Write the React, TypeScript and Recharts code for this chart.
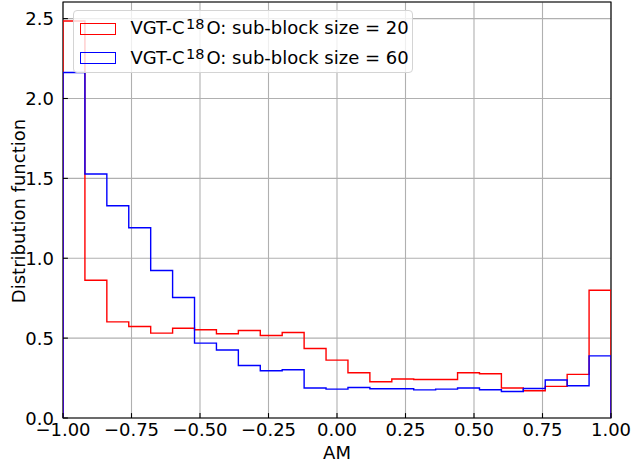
import { CartesianGrid, Label, Legend, Line, LineChart, ReferenceArea, XAxis, YAxis } from "recharts";

const FONT = "'DejaVu Sans', sans-serif";

// histogram bin edges (25 bins of width 0.08)
const binEdges = [
  -1, -0.92, -0.84, -0.76, -0.68, -0.6, -0.52, -0.44, -0.36, -0.28, -0.2, -0.12, -0.04,
  0.04, 0.12, 0.2, 0.28, 0.36, 0.44, 0.52, 0.6, 0.68, 0.76, 0.84, 0.92, 1,
];

const density20 = [
  2.485, 0.862, 0.602, 0.573, 0.531, 0.562, 0.552, 0.527, 0.548, 0.516, 0.535, 0.435, 0.362,
  0.283, 0.227, 0.244, 0.241, 0.241, 0.283, 0.277, 0.188, 0.171, 0.198, 0.273, 0.8,
];

const density60 = [
  2.163, 1.527, 1.329, 1.191, 0.923, 0.754, 0.469, 0.426, 0.329, 0.296, 0.302, 0.188, 0.181,
  0.191, 0.183, 0.183, 0.176, 0.181, 0.188, 0.177, 0.166, 0.185, 0.238, 0.202, 0.389,
];

const xTicks = [-1, -0.75, -0.5, -0.25, 0, 0.25, 0.5, 0.75, 1];
const yTicks = [0, 0.5, 1, 1.5, 2, 2.5];
const Y_MAX = 2.604;

const series = [
  { key: "s20", color: "#ff0000", size: "20" },
  { key: "s60", color: "#0000ff", size: "60" },
];

// step outline: start at 0, one point per left edge, close at right edge
const last = density20.length - 1;
const rows = [
  { x: binEdges[0], s20: 0, s60: 0 },
  ...density20.map((v, i) => ({ x: binEdges[i], s20: v, s60: density60[i] })),
  { x: binEdges[last + 1], s20: density20[last], s60: density60[last] },
  { x: binEdges[last + 1], s20: 0, s60: 0 },
];

const fmtX = (v: number) => (v < 0 ? "\u2212" + Math.abs(v).toFixed(2) : v.toFixed(2));

function XTick({ x, y, payload }: any) {
  return (
    <g>
      <line x1={x} x2={x} y1={y} y2={y - 4.9} stroke="#000" strokeWidth={1.1} />
      <text x={x} y={y + 18} textAnchor="middle" fontSize={18} fontFamily={FONT} fill="#000">
        {fmtX(payload.value)}
      </text>
    </g>
  );
}

function YTick({ x, y, payload }: any) {
  return (
    <g>
      <line x1={x} x2={x + 4.9} y1={y} y2={y} stroke="#000" strokeWidth={1.1} />
      <text x={x - 9} y={y + 6.8} textAnchor="end" fontSize={18} fontFamily={FONT} fill="#000">
        {payload.value.toFixed(1)}
      </text>
    </g>
  );
}

function LegendBox() {
  return (
    <div
      style={{
        position: "relative",
        width: 340,
        height: 63,
        boxSizing: "border-box",
        border: "1px solid #d4d4d4",
        borderRadius: 4,
        background: "rgba(255,255,255,0.8)",
        fontFamily: FONT,
        fontSize: 18,
        color: "#000",
      }}
    >
      {series.map((s, i) => (
        <div key={s.key}>
          <div
            style={{
              position: "absolute",
              left: 6.5,
              top: 12 + i * 29.3,
              width: 35.5,
              height: 12,
              boxSizing: "border-box",
              border: `1.4px solid ${s.color}`,
            }}
          />
          <span
            style={{
              position: "absolute",
              left: 57,
              top: 6.4 + i * 29.3,
              whiteSpace: "nowrap",
              lineHeight: "normal",
            }}
          >
            VGT-C
            <span style={{ fontSize: 14.5, position: "relative", top: -5, marginLeft: 1.5, marginRight: 2 }}>18</span>
            O: sub-block size = {s.size}
          </span>
        </div>
      ))}
    </div>
  );
}

export default function App() {
  return (
    <div style={{ position: "absolute", left: 0, top: 0, width: 631, height: 468, background: "#fff" }}>
      <LineChart width={631} height={468} data={rows} margin={{ top: 2, right: 20, bottom: 20, left: 8 }}>
        <CartesianGrid stroke="#b0b0b0" strokeWidth={1.1} />
        <XAxis
          dataKey="x"
          type="number"
          domain={[-1, 1]}
          ticks={xTicks}
          allowDataOverflow
          height={30}
          axisLine={false}
          tickLine={false}
          tickSize={0}
          tickMargin={0}
          tick={<XTick />}
          interval={0}
        >
          <Label
            content={({ viewBox }: any) => (
              <text
                x={viewBox.x + viewBox.width / 2}
                y={viewBox.y + 41.3}
                textAnchor="middle"
                fontSize={18}
                fontFamily={FONT}
                fill="#000"
              >
                AM
              </text>
            )}
          />
        </XAxis>
        <YAxis
          type="number"
          domain={[0, Y_MAX]}
          ticks={yTicks}
          allowDataOverflow
          width={55}
          axisLine={false}
          tickLine={false}
          tickSize={0}
          tickMargin={0}
          tick={<YTick />}
          interval={0}
        >
          <Label
            content={({ viewBox }: any) => (
              <text
                x={25}
                y={viewBox.y + viewBox.height / 2 + 1}
                transform={`rotate(-90 25 ${viewBox.y + viewBox.height / 2 + 1})`}
                textAnchor="middle"
                fontSize={18}
                fontFamily={FONT}
                fill="#000"
              >
                Distribution function
              </text>
            )}
          />
        </YAxis>
        {series.map((s) => (
          <Line
            key={s.key}
            dataKey={s.key}
            type="stepAfter"
            stroke={s.color}
            strokeWidth={1.4}
            dot={false}
            activeDot={false}
            isAnimationActive={false}
          />
        ))}
        <ReferenceArea x1={-1} x2={1} y1={0} y2={Y_MAX} fill="none" stroke="#000" strokeWidth={1.1} />
        <Legend
          layout="vertical"
          align="center"
          verticalAlign="middle"
          wrapperStyle={{ left: 72.5, top: 10, width: 340, height: 63 }}
          content={() => <LegendBox />}
        />
      </LineChart>
    </div>
  );
}
